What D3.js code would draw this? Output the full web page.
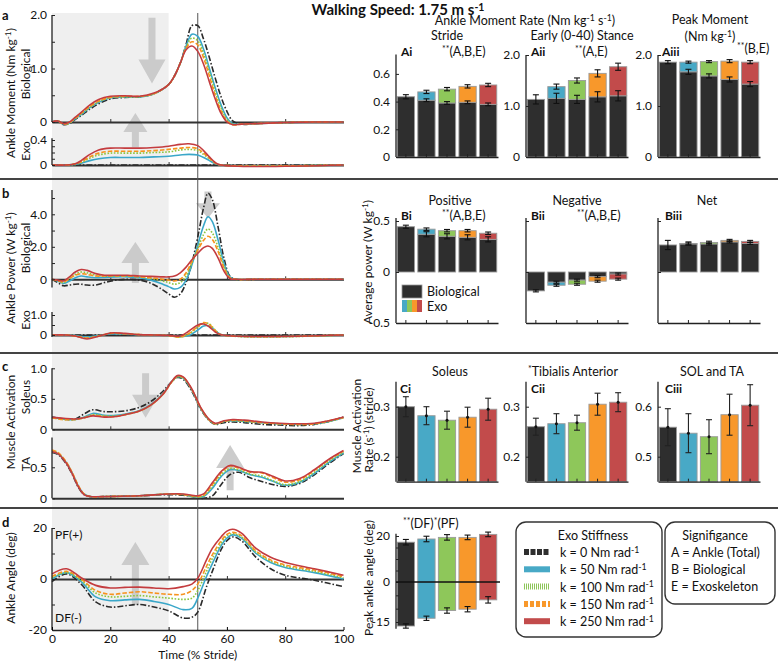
<!DOCTYPE html>
<html><head><meta charset="utf-8">
<script src="https://cdn.jsdelivr.net/npm/d3@7"></script>
<style>
body{margin:0;background:#fff}
text{font-family:Lato,"Open Sans",sans-serif;fill:#111}
</style>
</head><body><script>
// ---------------- DATA ----------------
const kValues = ["0","50","100","150","250"];
const lineColors = ["#2a2a2a","#3aa7c9","#8cc63f","#f7931e","#c43c3f"];
const barColors  = ["#2e2e2e","#48a9c6","#8ec75a","#f8982b","#c24b4b"];
const lineDash   = ["6,2,1.5,2", null, "1.6,1.6", "4.5,2", null];

// a: ankle moment, biological (Nm/kg)
const aBioX = [0,2,4,6,8,10,13,16,20,25,30,35,40,42,44,46,48,50,52,54,56,58,60,62,65,70,80,90,100];
const aBioK0   = [0,0.02,-0.05,-0.03,0.05,0.12,0.24,0.34,0.43,0.46,0.47,0.53,0.70,0.86,1.10,1.45,1.80,1.80,1.55,1.20,0.82,0.47,0.20,0.02,-0.04,-0.03,-0.01,0,0];
const aBioK50  = [0,0.02,-0.04,-0.02,0.06,0.14,0.27,0.37,0.45,0.47,0.47,0.53,0.70,0.86,1.10,1.42,1.64,1.60,1.36,1.00,0.64,0.32,0.08,-0.03,-0.04,-0.03,-0.01,0,0];
const aBioK100 = [0,0.02,-0.04,-0.02,0.07,0.15,0.28,0.38,0.46,0.47,0.47,0.53,0.70,0.86,1.10,1.40,1.57,1.52,1.28,0.93,0.57,0.26,0.05,-0.04,-0.04,-0.03,-0.01,0,0];
const aBioK150 = [0,0.02,-0.04,-0.01,0.07,0.16,0.29,0.39,0.46,0.48,0.48,0.53,0.70,0.86,1.10,1.38,1.50,1.44,1.20,0.86,0.50,0.21,0.02,-0.05,-0.04,-0.03,-0.01,0,0];
const aBioK250 = [0,0.02,-0.03,0.00,0.09,0.18,0.32,0.42,0.48,0.49,0.48,0.54,0.70,0.86,1.10,1.35,1.42,1.32,1.08,0.75,0.43,0.16,0.00,-0.05,-0.04,-0.03,-0.01,0,0];

// a: exo moment
const aExoX = [0,5,8,10,13,16,20,25,30,35,40,44,47,50,52,54,56,58,100];
const aExoK0   = [0,0,0,0,0,0,0,0,0,0,0,0,0,0,0,0,0,0,0];
const aExoK50  = [0,0,0.01,0.03,0.07,0.10,0.12,0.12,0.12,0.13,0.14,0.16,0.17,0.16,0.12,0.07,0.02,0,0];
const aExoK100 = [0,0,0.01,0.04,0.11,0.16,0.19,0.19,0.19,0.20,0.21,0.24,0.25,0.23,0.17,0.10,0.03,0,0];
const aExoK150 = [0,0,0.02,0.05,0.13,0.19,0.22,0.22,0.22,0.23,0.25,0.27,0.28,0.26,0.19,0.11,0.03,0,0];
const aExoK250 = [0,0,0.02,0.07,0.17,0.24,0.27,0.27,0.27,0.28,0.30,0.33,0.34,0.31,0.23,0.13,0.04,0,0];

// b: ankle power, biological (W/kg)
const bBioX = [0,2,4,6,8,10,12,15,18,22,26,30,34,38,40,42,44,46,48,50,52,53.5,55,57,59,61,63,70,100];
const bBioK0   = [0,-0.2,-0.4,-0.35,-0.3,-0.3,-0.35,-0.35,-0.2,-0.05,0,-0.05,-0.25,-0.65,-0.9,-1.1,-0.9,-0.2,1.0,2.6,4.4,5.3,4.9,3.2,1.3,0.2,0,0,0];
const bBioK50  = [0,-0.1,-0.25,-0.1,0.1,0.2,0.15,0.1,0.12,0.15,0.15,0.1,-0.05,-0.3,-0.45,-0.6,-0.5,-0.05,0.9,2.1,3.3,3.85,3.55,2.4,1.0,0.15,0,0,0];
const bBioK100 = [0,-0.1,-0.2,0.05,0.3,0.45,0.4,0.25,0.2,0.2,0.2,0.15,0.05,-0.1,-0.2,-0.3,-0.2,0.2,1.0,1.9,2.75,3.1,2.85,1.95,0.8,0.1,0,0,0];
const bBioK150 = [0,-0.1,-0.15,0.05,0.25,0.35,0.3,0.2,0.2,0.2,0.2,0.15,0.1,0,-0.05,-0.1,0,0.4,1.1,1.8,2.4,2.65,2.45,1.7,0.7,0.1,0,0,0];
const bBioK250 = [0,-0.05,-0.1,0.15,0.45,0.6,0.55,0.35,0.25,0.25,0.25,0.2,0.18,0.15,0.15,0.2,0.4,0.75,1.2,1.6,1.95,2.05,1.9,1.3,0.5,0.05,0,0,0];

// b: exo power
const bExoX = [0,5,8,12,16,20,25,30,35,40,44,47,50,52,54,56,58,100];
const bExoK0   = [0,0,0,0,0,0,0,0,0,0,0,0,0,0,0,0,0,0];
const bExoK50  = [0,0,-0.03,-0.10,-0.03,0.05,0.04,0.01,0,-0.03,-0.08,-0.02,0.25,0.45,0.45,0.22,0.02,0];
const bExoK100 = [0,0,-0.05,-0.15,-0.05,0.08,0.06,0.02,0,-0.03,-0.10,0.05,0.40,0.60,0.55,0.25,0.02,0];
const bExoK150 = [0,0,-0.05,-0.15,-0.05,0.08,0.06,0.02,0,-0.03,-0.10,0.08,0.42,0.62,0.52,0.22,0.02,0];
const bExoK250 = [0,0,-0.05,-0.20,-0.06,0.10,0.08,0.02,0,-0.02,-0.05,0.20,0.50,0.55,0.40,0.15,0.01,0];

// c: soleus activation
const solX = [0,4,8,11,14,18,22,26,30,34,38,41,43,45,48,51,54,56,59,62,66,72,78,84,90,95,100];
const solK0   = [0.20,0.17,0.17,0.25,0.32,0.29,0.29,0.31,0.36,0.46,0.62,0.78,0.85,0.82,0.62,0.33,0.14,0.08,0.11,0.12,0.11,0.08,0.07,0.06,0.08,0.13,0.20];
const solK50  = [0.20,0.17,0.16,0.20,0.26,0.23,0.23,0.26,0.31,0.41,0.58,0.78,0.86,0.84,0.64,0.34,0.15,0.09,0.13,0.14,0.13,0.11,0.09,0.08,0.09,0.13,0.19];
const solK100 = [0.19,0.16,0.16,0.19,0.24,0.22,0.22,0.25,0.30,0.40,0.57,0.77,0.86,0.84,0.65,0.35,0.15,0.09,0.13,0.14,0.13,0.11,0.09,0.08,0.09,0.13,0.19];
const solK150 = [0.19,0.16,0.16,0.19,0.23,0.21,0.21,0.25,0.30,0.40,0.57,0.77,0.87,0.85,0.65,0.35,0.15,0.09,0.13,0.15,0.14,0.11,0.09,0.08,0.09,0.14,0.19];
const solK250 = [0.20,0.18,0.17,0.19,0.22,0.20,0.21,0.25,0.30,0.40,0.57,0.78,0.88,0.86,0.66,0.36,0.16,0.10,0.14,0.16,0.15,0.12,0.10,0.09,0.10,0.14,0.20];

// c: tibialis anterior activation
const taX = [0,2,5,7,9,11,13,20,30,40,45,48,50,52,55,58,61,64,68,72,76,80,85,90,95,100];
const taK0   = [0.74,0.71,0.55,0.38,0.18,0.06,0.03,0.03,0.04,0.06,0.05,0.03,0.01,0.00,0.04,0.22,0.38,0.42,0.33,0.27,0.22,0.19,0.24,0.38,0.56,0.72];
const taK50  = [0.75,0.72,0.57,0.40,0.20,0.07,0.03,0.03,0.04,0.07,0.06,0.03,0.02,0.03,0.16,0.35,0.46,0.45,0.38,0.34,0.27,0.21,0.26,0.40,0.58,0.73];
const taK100 = [0.76,0.73,0.57,0.40,0.20,0.07,0.03,0.03,0.04,0.07,0.06,0.03,0.02,0.04,0.19,0.38,0.48,0.46,0.39,0.36,0.28,0.22,0.27,0.42,0.60,0.74];
const taK150 = [0.78,0.74,0.58,0.41,0.21,0.07,0.03,0.03,0.04,0.07,0.06,0.04,0.03,0.05,0.22,0.41,0.52,0.49,0.42,0.41,0.33,0.26,0.30,0.45,0.62,0.76];
const taK250 = [0.75,0.72,0.56,0.39,0.19,0.06,0.03,0.03,0.04,0.07,0.07,0.05,0.04,0.07,0.25,0.43,0.53,0.50,0.43,0.42,0.35,0.28,0.32,0.46,0.63,0.77];

// d: ankle angle (deg)
const angX = [0,5,10,15,20,25,30,35,40,45,48,50,53,55,58,60,62,65,70,75,80,90,100];
const angK0   = [-1,2,-2,-9,-11,-10.5,-10,-11,-12.5,-15.3,-15,-13,-3,3,11.5,15,16.5,15,8.5,4,1.5,-0.5,-3];
const angK50  = [0,2.5,-1,-7,-8.5,-8.2,-8,-8.8,-10,-12,-11.5,-7.5,1,6,13,16,17.3,16,10,6.5,4.5,2.5,0];
const angK100 = [0.5,2.5,-0.5,-5.5,-7,-6.8,-6.5,-7,-7.5,-8,-7.5,-4.5,3,8,14,17,17.8,16.5,10.5,7,5,3,0.5];
const angK150 = [1,3,0,-4.5,-6,-5.5,-5,-5.5,-6,-6,-4.5,-2,5,9.5,15,17.5,18.3,17,11,7.5,5.5,3.5,1];
const angK250 = [2,4,0.5,-2.5,-3.5,-3.3,-3.2,-3.5,-3.8,-3,-2,0.3,7.5,12,16.5,18.8,19.5,18,12,8.5,6.5,4,1.5];

// A: ankle moment rate / peak moment bars
const aiBio = [0.435,0.41,0.39,0.395,0.38],  aiTot = [0.435,0.47,0.49,0.51,0.52];
const aiErrBio = [0,0.01,0.01,0.01,0.01],     aiErrTot = [0.015,0.012,0.012,0.012,0.012];
const aiiBio = [1.13,1.15,1.13,1.18,1.20],    aiiTot = [1.13,1.38,1.50,1.64,1.77];
const aiiErrBio = [0,0.10,0.08,0.10,0.10],    aiiErrTot = [0.09,0.05,0.05,0.07,0.07];
const aiiiBio = [1.86,1.67,1.59,1.52,1.43],   aiiiTot = [1.86,1.86,1.87,1.88,1.86];
const aiiiErrBio = [0,0.05,0.04,0.05,0.05],   aiiiErrTot = [0.03,0.02,0.02,0.03,0.03];
// B: average power bars
const biBio = [0.444,0.37,0.35,0.34,0.32],    biTot = [0.444,0.42,0.405,0.405,0.38];
const biErrBio = [0,0.025,0.025,0.025,0.025], biErrTot = [0.015,0.012,0.012,0.012,0.012];
const biiBio = [-0.185,-0.10,-0.08,-0.046,-0.02], biiTot = [-0.185,-0.13,-0.12,-0.09,-0.07];
const biiErrBio = [0,0.01,0.01,0.01,0.01],    biiErrTot = [0.01,0.01,0.01,0.01,0.01];
const biiiBio = [0.265,0.275,0.275,0.295,0.28], biiiTot = [0.265,0.28,0.29,0.31,0.30];
const biiiErrBio = [0,0.01,0.01,0.01,0.01],   biiiErrTot = [0.045,0.015,0.012,0.01,0.01];
// C: muscle activation rate bars
const ciVal = [0.300,0.282,0.273,0.279,0.295],  ciErr = [0.020,0.018,0.018,0.020,0.022];
const ciiVal = [0.260,0.266,0.268,0.305,0.309], ciiErr = [0.017,0.020,0.015,0.022,0.019];
const ciiiVal = [0.559,0.547,0.540,0.584,0.603], ciiiErr = [0.037,0.039,0.034,0.041,0.041];
// D: peak ankle angle bars
const dPF = [17.3,18.7,19.4,19.4,20.7], dPFErr = [1.2,1.2,1.2,1.0,1.0];
const dDF = [-16.5,-13.6,-10.7,-10.2,-6.7], dDFErr = [0.8,0.8,1.0,1.0,1.2];

// ---------------- DRAWING ----------------
const W = 778, H = 662;
const FONT = "Lato,'Open Sans',sans-serif";
const svg = d3.select("body").append("svg").attr("width", W).attr("height", H);

function rich(sel, parts){
  let shift = 0;
  parts.forEach(p => {
    const s = typeof p === "string" ? p : p[0];
    const sup = typeof p !== "string";
    const target = sup ? -4.5 : 0;
    const t = sel.append("tspan").text(s);
    if (target - shift !== 0) t.attr("dy", target - shift);
    if (sup) t.attr("font-size", "0.7em");
    shift = target;
  });
  return sel;
}
function txt(x, y, parts, opt = {}){
  const t = svg.append("text").attr("x", x).attr("y", y)
    .attr("font-size", opt.size || 12.5).attr("text-anchor", opt.anchor || "start")
    .attr("font-weight", opt.bold ? "bold" : null);
  return rich(t, parts);
}
function vtxt(x, y, parts, size = 12){
  const t = svg.append("text").attr("transform", `translate(${x},${y}) rotate(-90)`)
    .attr("font-size", size).attr("text-anchor", "middle");
  return rich(t, parts);
}

const pct = d3.scaleLinear().domain([0,100]).range([52,343.5]);
const yABio = d3.scaleLinear().domain([0,2]).range([122,15]);
const yAExo = d3.scaleLinear().domain([0,0.4]).range([165,140]);
const yBBio = d3.scaleLinear().domain([0,4]).range([279.3,214.3]);
const yBExo = d3.scaleLinear().domain([0,1]).range([335,315]);
const ySol  = d3.scaleLinear().domain([0,1]).range([429.3,368.3]);
const yTA   = d3.scaleLinear().domain([0,0.5]).range([498.3,467.3]);
const yAng  = d3.scaleLinear().domain([-20,20]).range([630,528]);

// background shading for 0-40% stride
svg.append("rect").attr("x", pct(0)).attr("y", 13).attr("width", pct(40)-pct(0)).attr("height", 617)
  .attr("fill", "#efefef");

// big gray arrows (annotation)
function arrow(p, yS, from, to, headLen, headW, shaftW = 7){
  const cx = pct(p), y0 = yS(from), y1 = yS(to);
  const dir = y1 < y0 ? -1 : 1;
  const yb = y1 - dir*headLen;
  const pts = [[cx-shaftW/2,y0],[cx-shaftW/2,yb],[cx-headW/2,yb],[cx,y1],[cx+headW/2,yb],[cx+shaftW/2,yb],[cx+shaftW/2,y0]];
  svg.append("path").attr("d", d3.line()(pts)+"Z").attr("fill", "#c6c6c6").attr("opacity", 0.9);
}
arrow(34.3, yABio, 1.95, 0.72, 24, 27);
arrow(28.6, yABio, -0.47, 0.17, 19, 24);
arrow(28.6, yBBio, -0.23, 2.3, 21, 28);
arrow(53.5, yBBio, 5.4, 3.75, 15, 24);
arrow(32.1, ySol, 0.92, 0.19, 23, 27);
arrow(61.1, yTA, 0.13, 0.86, 23, 28);
arrow(28.6, yAng, -10.2, 14.5, 23, 28);

// separators
[179, 353, 508].forEach(y => svg.append("line").attr("x1",0).attr("x2",W).attr("y1",y).attr("y2",y)
  .attr("stroke","#444").attr("stroke-width",2));

// 50% vertical line
svg.append("line").attr("x1", pct(50)).attr("x2", pct(50)).attr("y1", 13).attr("y2", 631)
  .attr("stroke", "#555").attr("stroke-width", 1);

// zero lines with inner ticks
function zeroLine(yS){
  const g = svg.append("g").attr("transform", `translate(0,${yS(0)})`)
    .call(d3.axisBottom(pct).tickValues([20,40,60,80]).tickSizeInner(-3).tickSizeOuter(0).tickFormat(""));
  g.select(".domain").attr("stroke","#333").attr("stroke-width",2);
  g.selectAll(".tick line").attr("stroke","#333");
}
[yABio, yAExo, yBBio, yBExo, ySol, yTA, yAng].forEach(zeroLine);

// curves
function curves(xs, series, yS){
  const line = d3.line().x((d,i) => pct(xs[i])).y(d => yS(d)).curve(d3.curveCatmullRom.alpha(0.5));
  series.forEach((s,i) => {
    svg.append("path").attr("d", line(s)).attr("fill","none").attr("stroke", lineColors[i])
      .attr("stroke-width", 1.6).attr("stroke-dasharray", lineDash[i]);
  });
}
curves(aBioX, [aBioK0,aBioK50,aBioK100,aBioK150,aBioK250], yABio);
curves(aExoX, [aExoK0,aExoK50,aExoK100,aExoK150,aExoK250], yAExo);
curves(bBioX, [bBioK0,bBioK50,bBioK100,bBioK150,bBioK250], yBBio);
curves(bExoX, [bExoK0,bExoK50,bExoK100,bExoK150,bExoK250], yBExo);
curves(solX, [solK0,solK50,solK100,solK150,solK250], ySol);
curves(taX, [taK0,taK50,taK100,taK150,taK250], yTA);
curves(angX, [angK0,angK50,angK100,angK150,angK250], yAng);

// left y axes
function leftAxis(yS, ticks, labels, ext, x = pct(0)){
  const g = svg.append("g").attr("transform", `translate(${x},0)`)
    .call(d3.axisLeft(yS).tickValues(ticks).tickFormat(d => labels[ticks.indexOf(d)] || "")
      .tickSizeInner(-3).tickSizeOuter(0).tickPadding(5));
  g.select(".domain").remove();
  g.append("line").attr("x1",0).attr("x2",0).attr("y1",yS(ext[0])).attr("y2",yS(ext[1]))
    .attr("stroke","#222").attr("stroke-width",1.3);
  g.selectAll(".tick line").attr("stroke","#222");
  g.selectAll(".tick text").attr("font-size",12).attr("font-family",FONT).attr("fill","#111");
  return g;
}
leftAxis(yABio, [0,0.5,1,1.5,2], ["0","","1.0","","2.0"], [0,2]);
leftAxis(yAExo, [0,0.1,0.2,0.3,0.4], ["0","","","","0.4"], [0,0.43]);
leftAxis(yBBio, [0,1,2,3,4,5], ["0","","2.0","","4.0",""], [-0.5,5.5]);
leftAxis(yBExo, [0,0.5,1], ["0","","1.0"], [-0.1,1.15]);
leftAxis(ySol, [0,0.5,1], ["0","0.5","1.0"], [0,1]);
leftAxis(yTA, [0,0.5], ["0","0.5"], [0,0.98]);
leftAxis(yAng, [-20,-10,0,10,20], ["-20","","0","","20"], [-20,20]);

// bottom x axis (time)
{
  const g = svg.append("g").attr("transform", `translate(0,${yAng(-20)})`)
    .call(d3.axisBottom(pct).tickValues([0,20,40,60,80,100]).tickSizeInner(-3).tickSizeOuter(0).tickPadding(4));
  g.select(".domain").attr("stroke","#222").attr("stroke-width",1.3);
  g.selectAll(".tick text").attr("font-size",12).attr("font-family",FONT).attr("fill","#111");
}
txt(pct(50), 659, ["Time (% Stride)"], {anchor:"middle", size:12});
txt(55, 539, ["PF(+)"], {size:12});
txt(55, 622, ["DF(-)"], {size:12});

// left labels
txt(2, 20, ["a"], {bold:true, size:13});
txt(2, 198, ["b"], {bold:true, size:13});
txt(2, 371, ["c"], {bold:true, size:13});
txt(2, 527, ["d"], {bold:true, size:13});
vtxt(15, 93, ["Ankle Moment (Nm kg", ["-1"], ")"]);
vtxt(30, 74, ["Biological"]);
vtxt(30, 151, ["Exo"]);
vtxt(15, 268, ["Ankle Power (W kg", ["-1"], ")"]);
vtxt(30, 248, ["Biological"]);
vtxt(30, 320, ["Exo"]);
vtxt(15, 422, ["Muscle Activation"]);
vtxt(30, 397, ["Soleus"]);
vtxt(30, 464, ["TA"]);
vtxt(15, 578, ["Ankle Angle (deg)"]);

// title
txt(398, 15, ["Walking Speed: 1.75 m s", ["-1"]], {anchor:"middle", bold:true, size:15});

// ---------------- RIGHT BAR PANELS ----------------
const colX = [0, 130, 262];
const bx = d3.scaleBand().domain(d3.range(5)).range([396, 498]).paddingInner(0.16).paddingOuter(0.06);

function rightAxis(off, yS, ticks, labels, ext, bottomAxis){
  const g = svg.append("g").attr("transform", `translate(${off+396},0)`)
    .call(d3.axisLeft(yS).tickValues(ticks).tickFormat(d => labels ? (labels[ticks.indexOf(d)] || "") : "")
      .tickSizeInner(-3).tickSizeOuter(0).tickPadding(6));
  g.select(".domain").remove();
  g.append("line").attr("x1",0).attr("x2",0).attr("y1",yS(ext[0])).attr("y2",yS(ext[1]))
    .attr("stroke","#222").attr("stroke-width",1.3);
  g.selectAll(".tick line").attr("stroke","#222");
  g.selectAll(".tick text").attr("font-size",12).attr("font-family",FONT).attr("fill","#111");
  if (bottomAxis !== null){
    const bs = bx.copy().range([off+396, off+498]);
    const gb = svg.append("g").attr("transform", `translate(0,${yS(bottomAxis)})`)
      .call(d3.axisBottom(bs).tickSizeInner(-3).tickSizeOuter(0).tickFormat(""));
    gb.select(".domain").attr("stroke","#222").attr("stroke-width",1.3);
    gb.selectAll(".tick line").attr("stroke","#222");
  }
}
function errBar(cx, y1, y2, color = "#111", w = 6){
  svg.append("line").attr("x1",cx).attr("x2",cx).attr("y1",y1).attr("y2",y2).attr("stroke",color).attr("stroke-width",1.1);
  [y1,y2].forEach(y => svg.append("line").attr("x1",cx-w/2).attr("x2",cx+w/2).attr("y1",y).attr("y2",y)
    .attr("stroke",color).attr("stroke-width",1.1));
}
function stackPanel(off, yS, bio, tot, eBio, eTot){
  bio.forEach((b,i) => {
    const x0 = off + bx(i), w = bx.bandwidth(), cx = x0 + w/2;
    svg.append("rect").attr("x",x0).attr("width",w)
      .attr("y", Math.min(yS(0),yS(b))).attr("height", Math.abs(yS(0)-yS(b)))
      .attr("fill", barColors[0]).attr("stroke","#9a9a9a").attr("stroke-width",0.9);
    if (i > 0){
      svg.append("rect").attr("x",x0).attr("width",w)
        .attr("y", Math.min(yS(b),yS(tot[i]))).attr("height", Math.abs(yS(b)-yS(tot[i])))
        .attr("fill", barColors[i]).attr("stroke","#9a9a9a").attr("stroke-width",0.9);
      errBar(cx, yS(b-eBio[i]), yS(b+eBio[i]));
    }
    errBar(cx, yS(tot[i]-eTot[i]), yS(tot[i]+eTot[i]));
  });
}
function simplePanel(off, yS, base, vals, errs){
  vals.forEach((v,i) => {
    const x0 = off + bx(i), w = bx.bandwidth(), cx = x0 + w/2;
    svg.append("rect").attr("x",x0).attr("width",w).attr("y",yS(v)).attr("height",yS(base)-yS(v))
      .attr("fill", barColors[i]).attr("stroke","#9a9a9a").attr("stroke-width",0.9);
    errBar(cx, yS(v-errs[i]), yS(v+errs[i]), "#222");
    svg.append("circle").attr("cx",cx).attr("cy",yS(v)).attr("r",1.5).attr("fill","#111");
  });
}

// Row A
const yAi = d3.scaleLinear().domain([0,0.74]).range([157,54.5]);
const yAii = d3.scaleLinear().domain([0,2]).range([157,55]);
stackPanel(colX[0], yAi, aiBio, aiTot, aiErrBio, aiErrTot);
stackPanel(colX[1], yAii, aiiBio, aiiTot, aiiErrBio, aiiErrTot);
stackPanel(colX[2], yAii, aiiiBio, aiiiTot, aiiiErrBio, aiiiErrTot);
rightAxis(colX[0], yAi, [0,0.2,0.4,0.6], ["0","0.2","0.4","0.6"], [0,0.74], 0);
rightAxis(colX[1], yAii, [0,1,2], ["0","1.0","2.0"], [0,2], 0);
rightAxis(colX[2], yAii, [0,1,2], ["0","1.0","2.0"], [0,2], 0);
txt(525, 25, ["Ankle Moment Rate (Nm kg", ["-1"], "  s", ["-1"], ")"], {anchor:"middle"});
txt(447, 40, ["Stride"], {anchor:"middle"});
txt(401, 56, ["Ai"], {bold:true, size:12});
txt(442, 56, [["**"], "(A,B,E)"]);
txt(582, 40, ["Early (0-40) Stance"], {anchor:"middle"});
txt(531, 56, ["Aii"], {bold:true, size:12});
txt(575, 56, [["**"], "(A,E)"]);
txt(710, 24, ["Peak Moment"], {anchor:"middle"});
txt(710, 41, ["(Nm kg", ["-1"], ")"], {anchor:"middle"});
txt(662, 56, ["Aiii"], {bold:true, size:12});
txt(737, 53, [["**"], "(B,E)"]);

// Row B
const yB = d3.scaleLinear().domain([-0.5,0.5]).range([323,221]);
stackPanel(colX[0], yB, biBio, biTot, biErrBio, biErrTot);
stackPanel(colX[1], yB, biiBio, biiTot, biiErrBio, biiErrTot);
stackPanel(colX[2], yB, biiiBio, biiiTot, biiiErrBio, biiiErrTot);
rightAxis(colX[0], yB, [-0.5,0,0.5], ["-0.5","0","0.5"], [-0.5,0.53], -0.5);
rightAxis(colX[1], yB, [-0.5,0,0.5], null, [-0.5,0.53], -0.5);
rightAxis(colX[2], yB, [-0.5,0,0.5], null, [-0.5,0.53], -0.5);
txt(450, 205, ["Positive"], {anchor:"middle"});
txt(401, 220, ["Bi"], {bold:true, size:12});
txt(442, 220, [["**"], "(A,B,E)"]);
txt(577, 205, ["Negative"], {anchor:"middle"});
txt(531, 220, ["Bii"], {bold:true, size:12});
txt(577, 220, [["**"], "(A,B,E)"]);
txt(707, 205, ["Net"], {anchor:"middle"});
txt(665, 220, ["Biii"], {bold:true, size:12});
vtxt(372, 262, ["Average power (W kg", ["-1"], ")"]);
// legend inside Bi
svg.append("rect").attr("x",402).attr("y",285).attr("width",20).attr("height",13).attr("fill",barColors[0]).attr("stroke","#9a9a9a").attr("stroke-width",0.8);
barColors.slice(1).forEach((c,i) => svg.append("rect").attr("x",402+i*5).attr("y",300).attr("width",5).attr("height",12).attr("fill",c));
txt(427, 296, ["Biological"]);
txt(427, 311, ["Exo"]);

// Row C
const yC = d3.scaleLinear().domain([0.15,0.35]).range([481.7,381.7]);
const yCiii = d3.scaleLinear().domain([0.45,0.65]).range([481.7,381.7]);
simplePanel(colX[0], yC, 0.15, ciVal, ciErr);
simplePanel(colX[1], yC, 0.15, ciiVal, ciiErr);
simplePanel(colX[2], yCiii, 0.45, ciiiVal, ciiiErr);
rightAxis(colX[0], yC, [0.2,0.3], ["0.2","0.3"], [0.15,0.35], 0.15);
rightAxis(colX[1], yC, [0.2,0.3], ["0.2","0.3"], [0.15,0.35], 0.15);
rightAxis(colX[2], yCiii, [0.5,0.6], ["0.5","0.6"], [0.45,0.65], 0.45);
txt(450, 376, ["Soleus"], {anchor:"middle"});
txt(400, 393, ["Ci"], {bold:true, size:12});
txt(573, 376, [["*"], "Tibialis Anterior"], {anchor:"middle"});
txt(531, 393, ["Cii"], {bold:true, size:12});
txt(712, 376, ["SOL and TA"], {anchor:"middle"});
txt(665, 393, ["Ciii"], {bold:true, size:12});
vtxt(361, 426, ["Muscle Activation"]);
vtxt(373, 430, ["Rate (s", ["-1"], ") (stride)"]);

// Row D
const yD = d3.scaleLinear().domain([-15,0,20]).range([622,582,536]);
dPF.forEach((pf,i) => {
  const x0 = bx(i), w = bx.bandwidth(), cx = x0 + w/2;
  svg.append("rect").attr("x",x0).attr("width",w).attr("y",yD(pf)).attr("height",yD(dDF[i])-yD(pf))
    .attr("fill", barColors[i]).attr("stroke","#9a9a9a").attr("stroke-width",0.9);
  errBar(cx, yD(pf-dPFErr[i]), yD(pf+dPFErr[i]));
  errBar(cx, yD(dDF[i]-dDFErr[i]), yD(dDF[i]+dDFErr[i]));
});
{
  const g = svg.append("g").attr("transform", "translate(396,0)")
    .call(d3.axisLeft(yD).tickValues([-15,-10,-5,0,5,10,15,20]).tickFormat(d => ({"-15":"-15","0":"0","20":"20"})[d] || "")
      .tickSizeInner(-3).tickSizeOuter(0).tickPadding(6));
  g.select(".domain").remove();
  g.append("line").attr("x1",0).attr("x2",0).attr("y1",yD(-17.5)).attr("y2",yD(21)).attr("stroke","#222").attr("stroke-width",1.3);
  g.selectAll(".tick line").attr("stroke","#222");
  g.selectAll(".tick text").attr("font-size",12).attr("font-family",FONT).attr("fill","#111");
  svg.append("line").attr("x1",396).attr("x2",500).attr("y1",yD(0)).attr("y2",yD(0)).attr("stroke","#111").attr("stroke-width",1.6);
}
txt(403, 528, [["**"], "(DF)", ["*"], "(PF)"]);
vtxt(373, 578, ["Peak ankle angle (deg)"]);

// Legend: Exo Stiffness
svg.append("rect").attr("x",516).attr("y",522).attr("width",146).attr("height",115).attr("rx",10)
  .attr("fill","#fff").attr("stroke","#333").attr("stroke-width",1.4);
txt(593, 540, ["Exo Stiffness"], {anchor:"middle"});
const legDash = ["5,1.5", null, "1,1", "4,2", null];
kValues.forEach((k,i) => {
  const y = 552 + i*17.3;
  svg.append("line").attr("x1",524).attr("x2",550).attr("y1",y).attr("y2",y)
    .attr("stroke", barColors[i]).attr("stroke-width",6).attr("stroke-dasharray", legDash[i]);
  txt(560, y+5, [`k = ${k} Nm rad`, ["-1"]]);
});
// Legend: Significance
svg.append("rect").attr("x",665).attr("y",522).attr("width",110).attr("height",82).attr("rx",10)
  .attr("fill","#fff").attr("stroke","#333").attr("stroke-width",1.4);
txt(715, 540, ["Signifigance"], {anchor:"middle"});
txt(671, 557, ["A = Ankle (Total)"]);
txt(671, 574, ["B = Biological"]);
txt(671, 591, ["E = Exoskeleton"]);
</script></body></html>
